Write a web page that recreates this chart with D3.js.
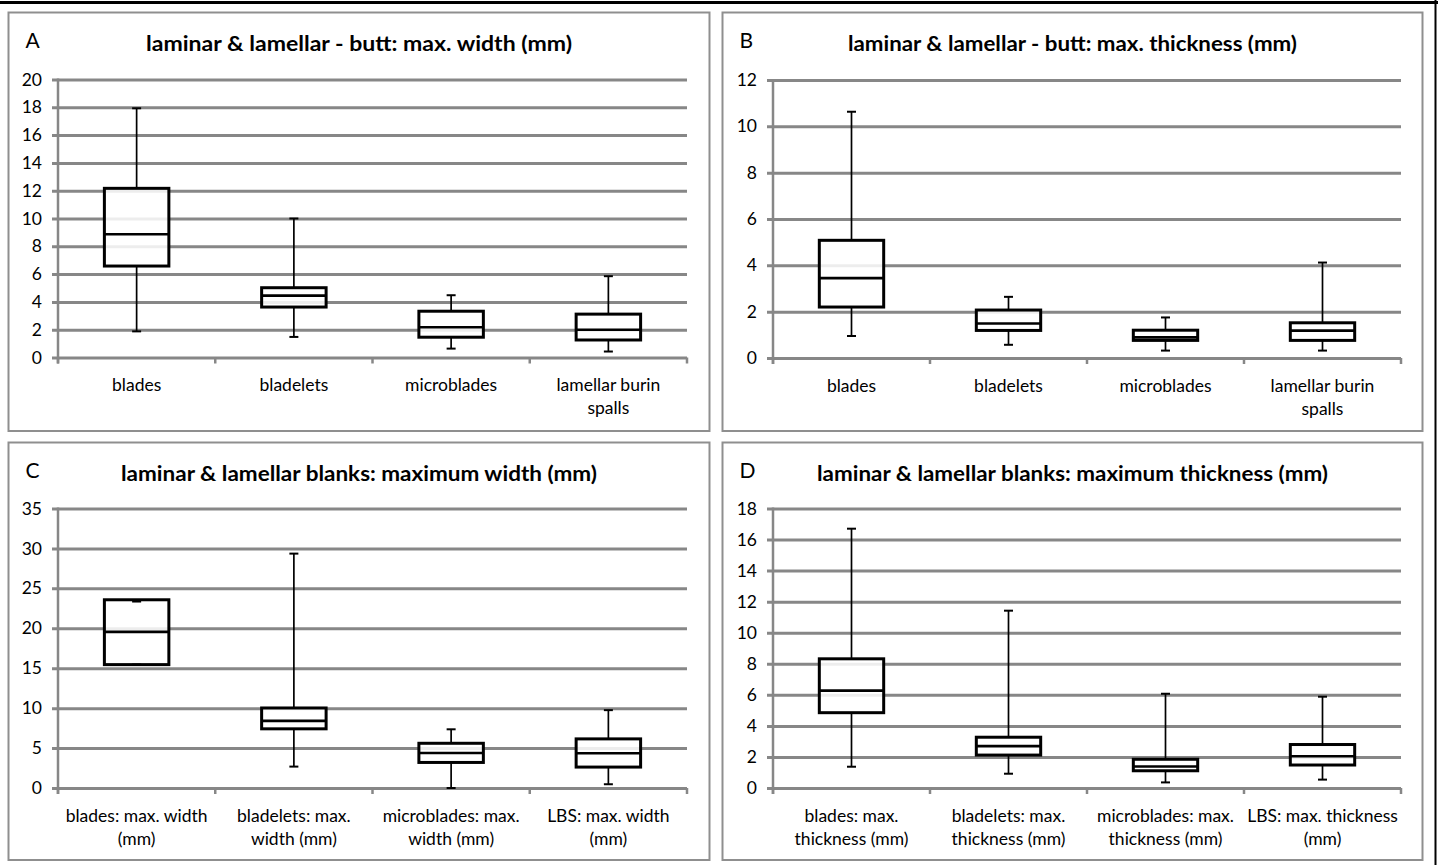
<!DOCTYPE html>
<html>
<head>
<meta charset="utf-8">
<script src="https://cdn.jsdelivr.net/npm/d3@7/dist/d3.min.js"></script>
<style>
  html, body { margin: 0; padding: 0; background: #fff; }
  svg { display: block; }
  text { font-family: Lato, "Open Sans", "DejaVu Sans", sans-serif; fill: #000; }
</style>
</head>
<body>
<svg id="chart" width="1438" height="865"></svg>
<script>
// ---------------- DATA ----------------
const panelLetters = ["A", "B", "C", "D"];
const panelTitles = [
  "laminar & lamellar - butt: max. width (mm)",
  "laminar & lamellar - butt: max. thickness (mm)",
  "laminar & lamellar blanks: maximum width (mm)",
  "laminar & lamellar blanks: maximum thickness (mm)"
];
const categoriesAB = [["blades"], ["bladelets"], ["microblades"], ["lamellar burin", "spalls"]];
const categoriesC = [["blades: max. width", "(mm)"], ["bladelets: max.", "width (mm)"], ["microblades: max.", "width (mm)"], ["LBS: max. width", "(mm)"]];
const categoriesD = [["blades: max.", "thickness (mm)"], ["bladelets: max.", "thickness (mm)"], ["microblades: max.", "thickness (mm)"], ["LBS: max. thickness", "(mm)"]];

const ticksA = [0, 2, 4, 6, 8, 10, 12, 14, 16, 18, 20];
const ticksB = [0, 2, 4, 6, 8, 10, 12];
const ticksC = [0, 5, 10, 15, 20, 25, 30, 35];
const ticksD = [0, 2, 4, 6, 8, 10, 12, 14, 16, 18];

// box-plot statistics per category: min, Q1, median, Q3, max
const minA = [1.88, 1.48, 0.64, 0.43];
const q1A  = [6.58, 3.63, 1.46, 1.26];
const medA = [8.87, 4.45, 2.18, 2.0];
const q3A  = [12.17, 5.02, 3.33, 3.12];
const maxA = [17.93, 10.0, 4.48, 5.85];

const minB = [0.95, 0.57, 0.32, 0.32];
const q1B  = [2.2, 1.19, 0.76, 0.76];
const medB = [3.45, 1.49, 0.89, 1.18];
const q3B  = [5.08, 2.07, 1.2, 1.52];
const maxB = [10.63, 2.64, 1.75, 4.12];

const minC = [15.45, 2.68, 0.0, 0.47];
const q1C  = [15.45, 7.41, 3.2, 2.62];
const medC = [19.55, 8.4, 4.38, 4.36];
const q3C  = [23.57, 10.02, 5.6, 6.15];
const maxC = [23.35, 29.35, 7.35, 9.75];

const minD = [1.37, 0.92, 0.36, 0.54];
const q1D  = [4.85, 2.12, 1.11, 1.48];
const medD = [6.27, 2.7, 1.38, 2.04];
const q3D  = [8.32, 3.27, 1.85, 2.8];
const maxD = [16.7, 11.42, 6.07, 5.88];

// ---------------- LAYOUT ----------------
const layouts = [
  { bx: 8.5,   by: 12.5,  bw: 701, bh: 418.5, left: 58,  right: 687,  top: 79.5,  bottom: 357.5, titleW: 426 },
  { bx: 722.5, by: 12.5,  bw: 700, bh: 418.5, left: 773, right: 1401, top: 80,    bottom: 358,   titleW: 449 },
  { bx: 8.5,   by: 442.5, bw: 701, bh: 417.5, left: 58,  right: 687,  top: 508.5, bottom: 788,   titleW: 476 },
  { bx: 722.5, by: 442.5, bw: 700, bh: 417.5, left: 773, right: 1401, top: 508.5, bottom: 788,   titleW: 511 }
];

const panels = [
  { cats: categoriesAB, ticks: ticksA, mn: minA, q1: q1A, md: medA, q3: q3A, mx: maxA },
  { cats: categoriesAB, ticks: ticksB, mn: minB, q1: q1B, md: medB, q3: q3B, mx: maxB },
  { cats: categoriesC,  ticks: ticksC, mn: minC, q1: q1C, md: medC, q3: q3C, mx: maxC },
  { cats: categoriesD,  ticks: ticksD, mn: minD, q1: q1D, md: medD, q3: q3D, mx: maxD }
];

const svg = d3.select("#chart");
const GRID = "#878787";

// outer dark frame lines (top and right)
svg.append("line").attr("x1", 0).attr("x2", 1438).attr("y1", 2.5).attr("y2", 2.5)
  .attr("stroke", "#000").attr("stroke-width", 3);
svg.append("line").attr("x1", 1435.5).attr("x2", 1435.5).attr("y1", 0).attr("y2", 865)
  .attr("stroke", "#000").attr("stroke-width", 2);

panels.forEach((p, i) => {
  const L = layouts[i];
  const g = svg.append("g");

  // panel border
  g.append("rect").attr("x", L.bx).attr("y", L.by).attr("width", L.bw).attr("height", L.bh)
    .attr("fill", "#fff").attr("stroke", "#8f8f8f").attr("stroke-width", 2);

  // letter
  g.append("text").attr("x", L.bx + 17).attr("y", L.by + 35)
    .attr("font-size", 21).text(panelLetters[i]);

  // title
  g.append("text").attr("x", L.bx + L.bw / 2).attr("y", L.by + 38.5)
    .attr("text-anchor", "middle").attr("font-size", 20).attr("font-weight", "bold")
    .attr("textLength", L.titleW).attr("lengthAdjust", "spacingAndGlyphs")
    .text(panelTitles[i]);

  const ids = d3.range(p.cats.length);
  const x = d3.scaleBand().domain(ids).range([L.left, L.right]).paddingInner(0).paddingOuter(0);
  const y = d3.scaleLinear().domain([0, d3.max(p.ticks)]).range([L.bottom, L.top]);

  // y axis with gridlines
  const width = L.right - L.left;
  const ax = g.append("g").attr("transform", `translate(${L.left},0)`)
    .call(d3.axisLeft(y).tickValues(p.ticks).tickSizeInner(-width).tickSizeOuter(0).tickPadding(16)
      .tickFormat(d3.format("d")));
  ax.select(".domain").remove();
  ax.selectAll(".tick line").attr("x1", -6).attr("stroke", GRID).attr("stroke-width", 3);
  ax.selectAll(".tick text").attr("font-size", 17.5).attr("font-family", "Lato, 'Open Sans', sans-serif").attr("fill", "#000");

  // vertical axis line
  g.append("line").attr("x1", L.left).attr("x2", L.left).attr("y1", y(d3.max(p.ticks)) - 1).attr("y2", y(0) + 6)
    .attr("stroke", GRID).attr("stroke-width", 2.5);

  // category boundary ticks
  const bounds = ids.map(d => x(d)).concat([L.right]);
  g.selectAll(".ctick").data(bounds).join("line")
    .attr("x1", d => d).attr("x2", d => d).attr("y1", y(0)).attr("y2", y(0) + 6)
    .attr("stroke", GRID).attr("stroke-width", 2.5);

  // category labels
  const lab = g.selectAll(".clab").data(p.cats).join("text")
    .attr("text-anchor", "middle").attr("font-size", 17.5)
    .attr("x", (d, j) => x(j) + x.bandwidth() / 2)
    .attr("y", y(0) + 33.5);
  lab.each(function (lines) {
    const t = d3.select(this);
    lines.forEach((ln, k) => {
      t.append("tspan").attr("x", t.attr("x")).attr("dy", k === 0 ? 0 : 23).text(ln);
    });
  });

  // boxes
  const bw = x.bandwidth() * 0.41;
  const capW = 9;
  const cx = j => x(j) + x.bandwidth() / 2;
  const bg = g.append("g");
  ids.forEach(j => {
    // whiskers
    bg.append("line").attr("x1", cx(j)).attr("x2", cx(j)).attr("y1", y(p.q3[j])).attr("y2", y(p.mx[j]))
      .attr("stroke", "#000").attr("stroke-width", 1.7);
    bg.append("line").attr("x1", cx(j)).attr("x2", cx(j)).attr("y1", y(p.q1[j])).attr("y2", y(p.mn[j]))
      .attr("stroke", "#000").attr("stroke-width", 1.7);
    // box
    bg.append("rect").attr("x", cx(j) - bw / 2).attr("width", bw)
      .attr("y", y(p.q3[j])).attr("height", y(p.q1[j]) - y(p.q3[j]))
      .attr("fill", "#fff").attr("fill-opacity", 0.85).attr("stroke", "#000").attr("stroke-width", 3);
    // median
    bg.append("line").attr("x1", cx(j) - bw / 2).attr("x2", cx(j) + bw / 2)
      .attr("y1", y(p.md[j])).attr("y2", y(p.md[j])).attr("stroke", "#000").attr("stroke-width", 2.6);
    // caps
    [p.mx[j], p.mn[j]].forEach(v => {
      bg.append("line").attr("x1", cx(j) - capW / 2).attr("x2", cx(j) + capW / 2)
        .attr("y1", y(v)).attr("y2", y(v)).attr("stroke", "#000").attr("stroke-width", 2);
    });
  });
});
</script>
</body>
</html>
